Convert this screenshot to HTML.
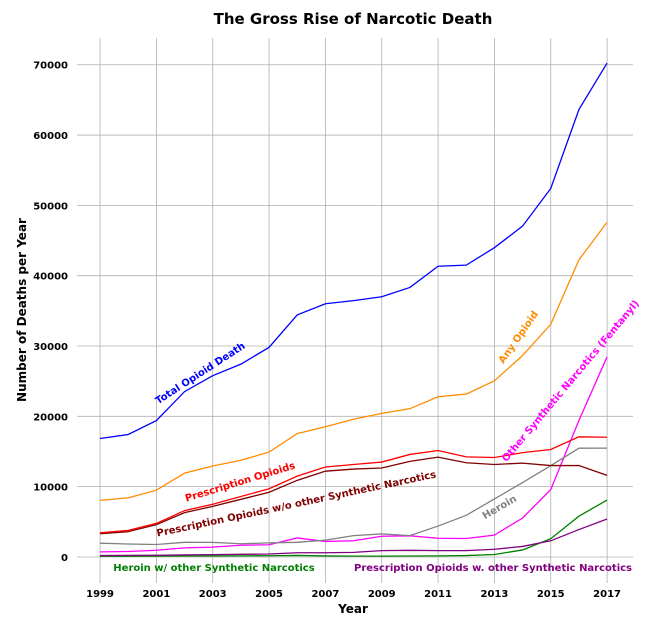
<!DOCTYPE html>
<html><head><meta charset="utf-8"><style>
body{margin:0;background:#fff}
svg{font-family:"DejaVu Sans","Liberation Sans",sans-serif;font-weight:bold}
</style></head><body>
<svg id="c" width="670" height="627" xmlns="http://www.w3.org/2000/svg">
<text x="353" y="24" text-anchor="middle" font-size="15">The Gross Rise of Narcotic Death</text>
<g id="grid"></g>
<g id="lines"></g>
<g id="labels"></g>
<text x="353" y="613" text-anchor="middle" font-size="12">Year</text>
<text transform="translate(26,310) rotate(-90)" text-anchor="middle" font-size="12">Number of Deaths per Year</text>
</svg>
<script>
const years=[1999,2000,2001,2002,2003,2004,2005,2006,2007,2008,2009,2010,2011,2012,2013,2014,2015,2016,2017];
const totalOpioid=[16849,17415,19394,23518,25785,27424,29813,34425,36010,36450,37004,38329,41340,41502,43982,47055,52404,63632,70237];
const anyOpioid=[8050,8407,9496,11920,12940,13756,14918,17545,18516,19582,20422,21089,22784,23166,25052,28647,33091,42249,47600];
const prescription=[3442,3785,4770,6600,7500,8600,9700,11500,12800,13150,13500,14580,15140,14240,14145,14838,15281,17087,17029];
const rxNoSynth=[3300,3600,4600,6300,7200,8200,9200,10900,12200,12500,12650,13600,14200,13400,13150,13350,13000,13000,11600];
const heroin=[1960,1842,1779,2089,2080,1878,2009,2088,2399,3041,3278,3036,4397,5925,8257,10574,12989,15469,15482];
const otherSynth=[730,782,957,1295,1400,1664,1742,2707,2213,2306,2946,3007,2666,2628,3105,5544,9580,19413,28466];
const heroinSynth=[100,110,120,140,150,160,180,220,150,120,120,140,160,200,350,1000,2600,5800,8100];
const rxSynth=[200,230,250,300,330,380,420,600,600,650,900,950,900,900,1100,1500,2300,3900,5400];
const yTicks=[0,10000,20000,30000,40000,50000,60000,70000];
const xTicks=[1999,2001,2003,2005,2007,2009,2011,2013,2015,2017];
const X0=84,X1=633,Y0=583,Y1=38,xmin=1998.43,xmax=2017.92,ymin=-3700,ymax=73800;
const sx=v=>X0+(v-xmin)/(xmax-xmin)*(X1-X0);
const sy=v=>Y0-(v-ymin)/(ymax-ymin)*(Y0-Y1);
const NS="http://www.w3.org/2000/svg";
function mk(t,a,p){const e=document.createElementNS(NS,t);for(const k in a)e.setAttribute(k,a[k]);p.appendChild(e);return e;}
const g=document.getElementById('grid');
yTicks.forEach(v=>{const l=mk('line',{x1:77,x2:X1,y1:sy(v),y2:sy(v),stroke:'#b0b0b0','stroke-width':0.8},g);


const t=mk('text',{x:68,y:sy(v)+4,'text-anchor':'end','font-size':10},g);t.textContent=v;

});
xTicks.forEach(v=>{const l=mk('line',{x1:sx(v),x2:sx(v),y1:Y1,y2:Y0,stroke:'#b0b0b0','stroke-width':0.8},g);


const t=mk('text',{x:sx(v),y:597,'text-anchor':'middle','font-size':10},g);t.textContent=v;

});
const L=document.getElementById('lines');
function line(d,c,n){const p=mk('polyline',{points:d.map((v,i)=>sx(years[i])+','+sy(v)).join(' '),fill:'none',stroke:c,'stroke-width':1.3},L);

}
line(heroinSynth,'#008000','line-heroin-synthetic');
line(rxSynth,'#800080','line-rx-synthetic');
line(otherSynth,'#ff00ff','line-other-synthetic');
line(heroin,'#808080','line-heroin');
line(rxNoSynth,'#800000','line-rx-no-synthetic');
line(prescription,'#ff0000','line-prescription');
line(anyOpioid,'#ff8c00','line-any-opioid');
line(totalOpioid,'#0000ff','line-total-opioid');
const LB=document.getElementById('labels');
function lab(txt,x,y,a,c,n,fs){const t=mk('text',{x:x,y:y,'text-anchor':'middle','font-size':fs||10,fill:c,transform:`rotate(${a},${x},${y})`},LB);t.textContent=txt;

}
lab('Total Opioid Death',202,376,-33,'#0000ff','label-total');
lab('Any Opioid',521,339,-55,'#ff8c00','label-any');
lab('Other Synthetic Narcotics (Fentanyl)',573,383,-50,'#ff00ff','label-other-synthetic');
lab('Prescription Opioids',241,485,-17,'#ff0000','label-prescription');
lab('Prescription Opioids w/o other Synthetic Narcotics',297,507,-12,'#800000','label-rx-no-synth');
lab('Heroin',501,510,-30,'#808080','label-heroin');
lab('Heroin w/ other Synthetic Narcotics',214,571,0,'#008000','label-heroin-synth');
lab('Prescription Opioids w. other Synthetic Narcotics',493,571,0,'#800080','label-rx-synth');
</script>
</body></html>
